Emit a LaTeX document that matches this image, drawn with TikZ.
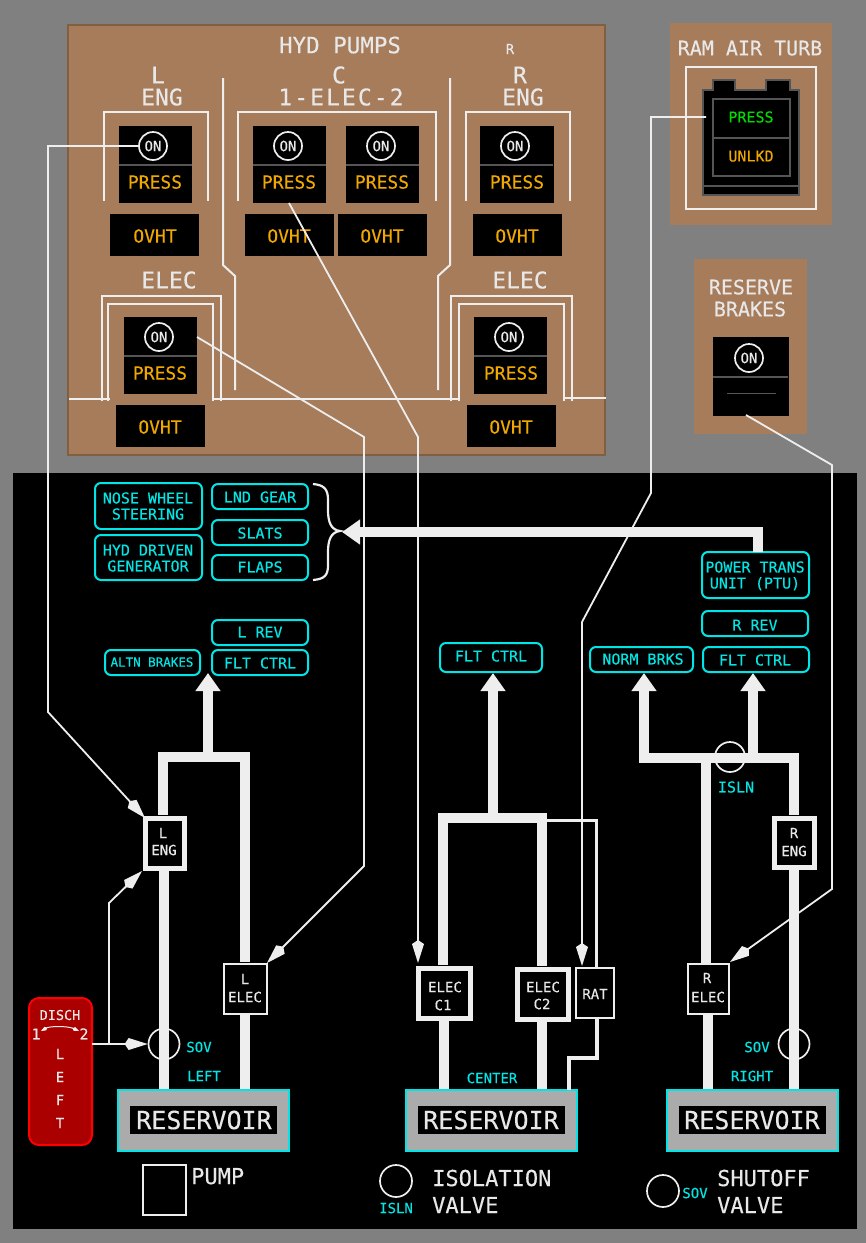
\documentclass[tikz,border=0pt]{standalone}
\usepackage{fontspec}
\setmainfont{DejaVu Sans Mono}[FakeBold=0.25]
\usetikzlibrary{arrows.meta}
\definecolor{pw}{HTML}{EEEEEE}
\definecolor{ptxt}{HTML}{E8E8E8}
\definecolor{brown}{HTML}{A67C5B}
\definecolor{brownd}{HTML}{806040}
\definecolor{cy}{HTML}{00E6E6}
\definecolor{amb}{HTML}{F0A800}
\definecolor{grn}{HTML}{00DC00}
\definecolor{dg}{HTML}{555555}
\newcommand\fsz[1]{\fontsize{#1}{#1}\selectfont}
% box: style, name, x1,y1,x2,y2 (centre of border line)
\newcommand\Bx[6]{\node[#1,minimum width={#5-#3},minimum height={#6-#4}] (#2) at ({(#3+#5)/2},{(#4+#6)/2}) {};}
% text: name, x, y, size, colour, text (x,y = middle of capital letters)
\newcommand\Tx[6]{\node[inner sep=0pt,text=#5,font=\fsz{#4},text height={0.73*#4pt},text depth=0pt] (#1) at (#2,#3) {#6};}
\newcommand\TxL[6]{\node[inner sep=0pt,anchor=west,text=#5,font=\fsz{#4},text height={0.73*#4pt},text depth=0pt] (#1) at (#2,#3) {#6};}
\tikzset{
  boxbase/.style={rectangle,inner sep=0pt,outer sep=0pt},
  panel/.style={boxbase,fill=brown},
  mainpanel/.style={boxbase,fill=brown,draw=brownd,line width=2pt},
  blk/.style={boxbase,fill=black},
  cybox/.style={boxbase,draw=cy,line width=2pt,rounded corners=6pt,fill=black},
  pumpthick/.style={boxbase,draw=pw,line width=5pt,fill=black},
  pumpthin/.style={boxbase,draw=pw,line width=2.5pt,fill=black},
  resv/.style={boxbase,fill=black!33,draw=cy,line width=2.2pt},
  valve/.style={circle,draw=pw,line width=1.7pt,inner sep=0pt,minimum size=30pt},
  onc/.style={circle,draw=pw,line width=1.7pt,inner sep=0pt,minimum size=28pt,font=\fsz{14},text=ptxt},
  divl/.style={draw=dg,line width=1.8pt},
  wl/.style={draw=pw,line width=2pt},
  hyd/.style={draw=pw,line width=10pt},
  hydup/.style={draw=pw,line width=10pt,-{Triangle[length=18pt,width=24pt]}},
  sig/.style={draw=pw,line width=1.8pt,-{Kite[length=23pt,width=12pt,inset=4pt]}},
  sigplain/.style={draw=pw,line width=1.8pt},
}
\begin{document}
\begin{tikzpicture}[x=1pt,y=-1pt]
\useasboundingbox (0,0) rectangle (866,1243);
\fill[black!50] (0,0) rectangle (866,1243);
\fill[black] (13,473) rectangle (857,1229);
% panels
\Bx{mainpanel}{pMain}{68}{25}{605}{455}
\Bx{panel}{pRam}{670}{23}{832}{225}
\Bx{panel}{pRes}{694}{259}{807}{434}
% headers
\Tx{tHyd}{340}{45}{22.5}{ptxt}{HYD PUMPS}
\Tx{tR0}{510}{49}{14}{ptxt}{R}
\Tx{tL}{158}{75}{23}{ptxt}{L}
\Tx{tLe}{162}{97}{23}{ptxt}{ENG}
\Tx{tC}{339}{75}{23}{ptxt}{C}
\Tx{tCe}{341}{97}{23}{ptxt}{\addfontfeatures{LetterSpace=9}1-ELEC-2}
\Tx{tR}{520}{75}{23}{ptxt}{R}
\Tx{tRe}{523}{97}{23}{ptxt}{ENG}
\Tx{tEL}{169}{280}{23}{ptxt}{ELEC}
\Tx{tER}{520}{280}{23}{ptxt}{ELEC}
% panel dividers and brackets
\draw[wl] (223,78) -- (223,265) -- (235,276) -- (235,390);
\draw[wl] (450,78) -- (450,265) -- (438,276) -- (438,390);
\draw[wl] (104,201) -- (104,112) -- (208,112) -- (208,201);
\draw[wl] (238,201) -- (238,112) -- (436,112) -- (436,201);
\draw[wl] (466,201) -- (466,112) -- (570,112) -- (570,201);
\draw[wl] (102,401) -- (102,296) -- (221,296) -- (221,401);
\draw[wl] (108,401) -- (108,304) -- (213,304) -- (213,401);
\draw[wl] (451,401) -- (451,296) -- (572,296) -- (572,401);
\draw[wl] (459,401) -- (459,304) -- (564,304) -- (564,401);
\draw[wl] (69,399) -- (110,399);
\draw[wl] (213,399) -- (460,399);
\draw[wl] (564,398) -- (606,398);
% switches
\Bx{blk}{sLE}{119}{126}{192}{203}
\Bx{blk}{sC1}{253}{126}{326}{203}
\Bx{blk}{sC2}{346}{126}{419}{203}
\Bx{blk}{sRE}{480}{126}{554}{203}
\Bx{blk}{sLX}{124}{317}{197}{394}
\Bx{blk}{sRX}{474}{317}{547}{394}
\Bx{blk}{sRB}{713}{337}{789}{416}
\draw[divl] (119,165) -- (192,165) (253,165) -- (326,165) (346,165) -- (419,165) (480,165) -- (553,165)
  (124,356) -- (197,356) (474,356) -- (547,356) (713,377) -- (788,377);
\draw[draw=dg,line width=1pt] (727,393) -- (776,393);
\Bx{blk}{oLE}{110}{214}{199}{256}
\Bx{blk}{oC1}{245}{214}{334}{256}
\Bx{blk}{oC2}{338}{214}{427}{256}
\Bx{blk}{oRE}{473}{214}{562}{256}
\Bx{blk}{oLX}{116}{405}{205}{447}
\Bx{blk}{oRX}{467}{405}{556}{447}
\node[onc] (onLE) at (153,146) {ON};
\node[onc] (onC1) at (288,146) {ON};
\node[onc] (onC2) at (381,146) {ON};
\node[onc] (onRE) at (515,146) {ON};
\node[onc] (onLX) at (159,337) {ON};
\node[onc] (onRX) at (509,337) {ON};
\node[onc] (onRB) at (749,358) {ON};
\Tx{pLE}{155}{182}{18}{amb}{PRESS}
\Tx{pC1}{289}{182}{18}{amb}{PRESS}
\Tx{pC2}{382}{182}{18}{amb}{PRESS}
\Tx{pRE}{517}{182}{18}{amb}{PRESS}
\Tx{pLX}{160}{373}{18}{amb}{PRESS}
\Tx{pRX}{511}{373}{18}{amb}{PRESS}
\Tx{vLE}{155}{236}{18}{amb}{OVHT}
\Tx{vC1}{289}{236}{18}{amb}{OVHT}
\Tx{vC2}{382}{236}{18}{amb}{OVHT}
\Tx{vRE}{517}{236}{18}{amb}{OVHT}
\Tx{vLX}{160}{427}{18}{amb}{OVHT}
\Tx{vRX}{511}{427}{18}{amb}{OVHT}
% RAM AIR TURB
\Tx{tRam}{750}{48}{20}{ptxt}{RAM AIR TURB}
\draw[wl] (686,67) rectangle (816,209);
\draw[fill=black,draw=dg,line width=1.8pt] (703,195) -- (703,90) -- (713,90) -- (713,80) -- (735,80) -- (735,90) -- (766,90) -- (766,80) -- (790,80) -- (790,90) -- (799,90) -- (799,195) -- cycle;
\draw[divl] (703,186) -- (799,186);
\Bx{boxbase,draw=dg,line width=1.8pt}{ramIn}{713}{99}{790}{176}
\draw[divl] (713,138) -- (790,138);
\Tx{tRamP}{751}{117}{15}{grn}{PRESS}
\Tx{tRamU}{751}{156}{15}{amb}{UNLKD}
% RESERVE BRAKES
\Tx{tRes1}{751}{287}{20}{ptxt}{RESERVE}
\Tx{tRes2}{750}{309}{20}{ptxt}{BRAKES}
% cyan boxes
\Bx{cybox}{bNose}{95}{483}{202}{529}
\Tx{a1}{148}{498}{15}{cy}{NOSE WHEEL}
\Tx{a2}{148}{514}{15}{cy}{STEERING}
\Bx{cybox}{bHyd}{95}{535}{202}{580}
\Tx{a3}{148}{550}{15}{cy}{HYD DRIVEN}
\Tx{a4}{148}{566}{15}{cy}{GENERATOR}
\Bx{cybox}{bLnd}{212}{484}{308}{509}
\Tx{a5}{260}{497}{15}{cy}{LND GEAR}
\Bx{cybox}{bSlt}{212}{520}{308}{545}
\Tx{a6}{260}{533}{15}{cy}{SLATS}
\Bx{cybox}{bFlp}{212}{555}{308}{580}
\Tx{a7}{260}{567}{15}{cy}{FLAPS}
\Bx{cybox}{bLrev}{212}{620}{308}{645}
\Tx{a8}{260}{632}{15}{cy}{L REV}
\Bx{cybox}{bLflt}{212}{650}{308}{675}
\Tx{a9}{260}{663}{15}{cy}{FLT CTRL}
\Bx{cybox}{bAltn}{105}{650}{200}{675}
\Tx{a10}{152}{662}{12.5}{cy}{ALTN BRAKES}
\Bx{cybox}{bCflt}{440}{643}{542}{672}
\Tx{a11}{491}{656}{15}{cy}{FLT CTRL}
\Bx{cybox}{bPtu}{702}{552}{809}{598}
\Tx{a12}{755}{567}{15}{cy}{POWER TRANS}
\Tx{a13}{755}{583}{15}{cy}{UNIT (PTU)}
\Bx{cybox}{bRrev}{702}{611}{808}{636}
\Tx{a14}{755}{625}{15}{cy}{R REV}
\Bx{cybox}{bRflt}{703}{647}{809}{672}
\Tx{a15}{755}{660}{15}{cy}{FLT CTRL}
\Bx{cybox}{bNorm}{590}{647}{693}{672}
\Tx{a16}{643}{659}{15}{cy}{NORM BRKS}
% brace
\coordinate (braceTip) at (340,531);
\draw[pw,line width=2.2pt] (313,484) .. controls (325,485) and (328,490) .. (328,500) -- (328,510) .. controls (328,522) and (331,530) .. (braceTip) .. controls (331,532) and (328,540) .. (328,552) -- (328,565) .. controls (328,575) and (325,579) .. (313,580);
% reservoirs
\Bx{resv}{rL}{118}{1090}{289}{1151}
\Bx{resv}{rC}{406}{1090}{577}{1151}
\Bx{resv}{rR}{667}{1090}{838}{1151}
\Bx{blk}{riL}{130}{1106}{277}{1134}
\Bx{blk}{riC}{418}{1106}{565}{1134}
\Bx{blk}{riR}{679}{1106}{826}{1134}
\Tx{rtL}{204}{1120}{25}{ptxt}{RESERVOIR}
\Tx{rtC}{491}{1120}{25}{ptxt}{RESERVOIR}
\Tx{rtR}{752}{1120}{25}{ptxt}{RESERVOIR}
% pumps
\Bx{pumpthick}{pLE}{145}{818}{184}{868}
\Bx{pumpthin}{pLX}{224}{964}{267}{1014}
\Bx{pumpthick}{pC1}{418}{968}{470}{1018}
\Bx{pumpthick}{pC2}{517}{969}{568}{1019}
\Bx{pumpthin}{pRAT}{576}{968}{614}{1018}
\Bx{pumpthin}{pRX}{688}{964}{729}{1014}
\Bx{pumpthick}{pRE}{774}{818}{814}{867}
\Tx{k1}{163}{833}{14}{ptxt}{L}
\Tx{k2}{164}{850}{14}{ptxt}{ENG}
\Tx{k3}{245}{979}{14}{ptxt}{L}
\Tx{k4}{245}{997}{14}{ptxt}{ELEC}
\Tx{k5}{445}{987}{14}{ptxt}{ELEC}
\Tx{k6}{443}{1005}{14}{ptxt}{C1}
\Tx{k7}{543}{987}{14}{ptxt}{ELEC}
\Tx{k8}{542}{1004}{14}{ptxt}{C2}
\Tx{k9}{595}{994}{14}{ptxt}{RAT}
\Tx{k10}{707}{978}{14}{ptxt}{R}
\Tx{k11}{708}{997}{14}{ptxt}{ELEC}
\Tx{k12}{794}{833}{14}{ptxt}{R}
\Tx{k13}{794}{851}{14}{ptxt}{ENG}
% hydraulic lines
\coordinate (jL) at (208,757);
\coordinate (jC) at (493,818);
\coordinate (jR) at (753,758);
\draw[hyd] (163,815) -- (163,757) -- (245,757) -- (245,962);
\draw[hyd] (164,870) -- (164,1089);
\draw[hyd] (245,1015) -- (245,1089);
\draw[hydup] (jL) -- (208,673);
\draw[hyd] (443,965) -- (443,818) -- (542,818) -- (542,966);
\draw[hyd] (444,1020) -- (444,1089);
\draw[hyd] (542,1021) -- (542,1089);
\draw[hydup] (jC) -- (493,673);
\draw[hyd] (706,963) -- (706,758);
\draw[hyd] (708,1015) -- (708,1089);
\draw[hyd] (794,815) -- (794,758);
\draw[hyd] (794,870) -- (794,1089);
\draw[hydup] (799,758) -- (644,758) -- (644,673);
\draw[hydup] (jR) -- (753,673);
\draw[hydup] (bPtu.north -| 758,0) -- (758,532) -- (342,532);
\draw[draw=pw,line width=3pt] (547,820) -- (596,820) -- (pRAT.north -| 596,0);
\draw[draw=pw,line width=3.5pt] (pRAT.south -| 597,0) -- (597,1058) -- (569,1058) -- (rC.north -| 569,0);
% valves
\node[valve] (vISLN) at (730,757) {};
\node[valve,minimum size=31pt] (vSL) at (164,1044) {};
\node[valve,minimum size=31pt] (vSR) at (794,1044) {};
\Tx{c1}{736}{787}{15}{cy}{ISLN}
\Tx{c2}{199}{1047}{14}{cy}{SOV}
\Tx{c3}{204}{1076}{14}{cy}{LEFT}
\Tx{c4}{492}{1078}{14}{cy}{CENTER}
\Tx{c5}{757}{1047}{14}{cy}{SOV}
\Tx{c6}{752}{1076}{14}{cy}{RIGHT}
% legend
\Bx{boxbase,draw=pw,line width=2pt}{legP}{143}{1165}{186}{1215}
\TxL{d1}{191}{1176}{22}{ptxt}{PUMP}
\node[valve,minimum size=32pt] (legI) at (396,1181) {};
\Tx{d2}{396}{1208}{14}{cy}{ISLN}
\TxL{d3}{432}{1178}{22}{ptxt}{ISOLATION}
\TxL{d4}{432}{1205}{22}{ptxt}{VALVE}
\node[valve,minimum size=32pt] (legS) at (663,1191) {};
\Tx{d5}{695}{1193}{14}{cy}{SOV}
\TxL{d6}{717}{1178}{22}{ptxt}{SHUTOFF}
\TxL{d7}{717}{1205}{22}{ptxt}{VALVE}
% DISCH handle
\node[boxbase,draw=red,fill=red!67!black,line width=2pt,rounded corners=10pt,minimum width=63pt,minimum height=147pt] (hDisch) at (60.5,1071.5) {};
\Tx{h1}{60}{1015}{13.5}{ptxt}{DISCH}
\Tx{h2}{36}{1034}{15}{ptxt}{1}
\Tx{h3}{84}{1034}{15}{ptxt}{2}
\Tx{h4}{60}{1054}{14}{ptxt}{L}
\Tx{h5}{60}{1077}{14}{ptxt}{E}
\Tx{h6}{60}{1100}{14}{ptxt}{F}
\Tx{h7}{60}{1123}{14}{ptxt}{T}
\draw[pw,line width=1pt,{Kite[length=7pt,width=4pt,inset=2pt]}-{Kite[length=7pt,width=4pt,inset=2pt]}] (41,1031) .. controls (50,1026) and (68,1026) .. (79,1031);
% signal lines
\coordinate (wLE1) at (48,146);
\coordinate (wLE2) at (48,712);
\draw[sig] (onLE.west) -- (wLE1) -- (wLE2) -- (pLE.north west);
\coordinate (wLX1) at (364,437);
\coordinate (wLX2) at (364,866);
\draw[sig] (sLX.east |- onLX.east) -- (wLX1) -- (wLX2) -- (267,963);
\coordinate (wC1) at (418,437);
\draw[sig] (289,203) -- (wC1) -- (418,963);
\coordinate (wT1) at (651,117);
\coordinate (wT2) at (651,493);
\coordinate (wT3) at (582,622);
\draw[sig] (706,117) -- (wT1) -- (wT2) -- (wT3) -- (582,966);
\coordinate (wB1) at (832,465);
\coordinate (wB2) at (832,889);
\draw[sig] (746,415) -- (wB1) -- (wB2) -- (730,962);
\draw[sig] (hDisch.east |- vSL.west) -- (vSL.west);
\coordinate (wD1) at (109,1044);
\coordinate (wD2) at (109,903);
\draw[sig] (wD1) -- (wD2) -- (142,871);
\end{tikzpicture}
\end{document}
